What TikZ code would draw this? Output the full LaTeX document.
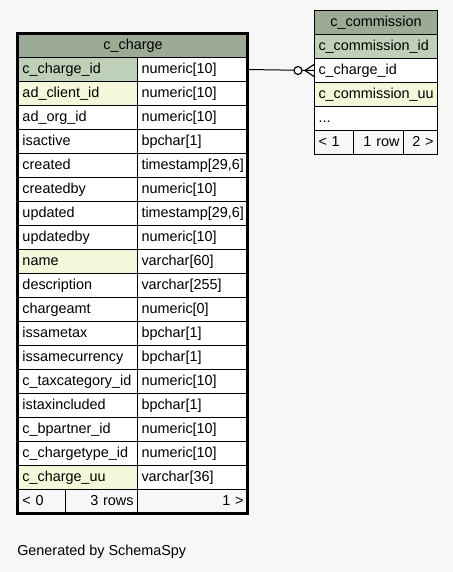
\documentclass[tikz,border=0pt]{standalone}
\usepackage{fontspec}
\setmainfont{Liberation Sans}
\usepackage{tikz}
\usetikzlibrary{arrows.meta, positioning, calc}
\definecolor{tblhead}{HTML}{9BAB96}
\definecolor{pkfill}{HTML}{BED1B8}
\definecolor{idxfill}{HTML}{F4F7DA}
\definecolor{pagebg}{HTML}{F7F7F7}

\begin{document}
\begin{tikzpicture}[
  x=0.75pt, y=-0.75pt,
  cell/.style={draw, line width=0.75pt, anchor=north west, minimum height=18pt, inner xsep=3pt, inner ysep=0pt, text height=7.8pt, text depth=2.2pt, font=\fontsize{10.8}{12}\selectfont, align=left},
  hcell/.style={cell, fill=tblhead, align=center},
  ncol/.style={cell, text width=83.25pt},
  tcol/.style={cell, fill=white, text width=76.5pt},
  mcol/.style={cell, text width=86.25pt},
  fcell/.style={cell, fill=pagebg}
]
  \fill[pagebg] (0,0) rectangle (453,572);
  \useasboundingbox (0,0) rectangle (453,572);

  \node[hcell, text width=165.75pt] (chg-h) at (18,33) {c\_charge};
  \foreach \nm/\tp/\fl [count=\i] in {
    c\_charge\_id/numeric[10]/pkfill,
    ad\_client\_id/numeric[10]/idxfill,
    ad\_org\_id/numeric[10]/white,
    isactive/bpchar[1]/white,
    created/timestamp[29{,}6]/white,
    createdby/numeric[10]/white,
    updated/timestamp[29{,}6]/white,
    updatedby/numeric[10]/white,
    name/varchar[60]/idxfill,
    description/varchar[255]/white,
    chargeamt/numeric[0]/white,
    issametax/bpchar[1]/white,
    issamecurrency/bpchar[1]/white,
    c\_taxcategory\_id/numeric[10]/white,
    istaxincluded/bpchar[1]/white,
    c\_bpartner\_id/numeric[10]/white,
    c\_chargetype\_id/numeric[10]/white,
    c\_charge\_uu/varchar[36]/idxfill}
  {
    \node[ncol, fill=\fl] (chg-n\i) at (18,33+24*\i) {\nm};
    \node[tcol] (chg-t\i) at (137,33+24*\i) {\tp};
  }
  \node[fcell, text width=29.25pt] (chg-f1) at (18,489) {< 0};
  \node[fcell, text width=48pt, align=right] (chg-f2) at (65,489) {3 rows};
  \node[fcell, text width=76.5pt, align=right] (chg-f3) at (137,489) {1 >};
  \draw[line width=2.25pt] (17.5,33) rectangle (247.5,513);

  \node[hcell, text width=86.25pt] (cms-h) at (314,10) {c\_commission};
  \node[mcol, fill=pkfill] (cms-n1) at (314,34) {c\_commission\_id};
  \node[mcol, fill=white] (cms-n2) at (314,58) {c\_charge\_id};
  \node[mcol, fill=idxfill] (cms-n3) at (314,82) {c\_commission\_uu};
  \node[mcol, fill=white] (cms-n4) at (314,106) {...};
  \node[fcell, text width=23.25pt] (cms-f1) at (314,130) {< 1};
  \node[fcell, text width=31.5pt, align=right] (cms-f2) at (353,130) {1 row};
  \node[fcell, text width=19.5pt, align=right] (cms-f3) at (403,130) {2 >};

  \draw[line width=0.75pt] (chg-t1.east) -- (cms-n2.west);
  \draw[line width=0.9pt] ([xshift=-6.75pt]cms-n2.west) -- ([yshift=4.5pt]cms-n2.west);
  \draw[line width=0.9pt] ([xshift=-6.75pt]cms-n2.west) -- ([yshift=-4.5pt]cms-n2.west);
  \draw[line width=0.9pt, fill=white] ([xshift=-12pt]cms-n2.west) circle (3pt);

  \node[anchor=west, inner sep=0pt, font=\fontsize{10.8}{12}\selectfont] (gen) at (17,552) {Generated by SchemaSpy};
\end{tikzpicture}
\end{document}
